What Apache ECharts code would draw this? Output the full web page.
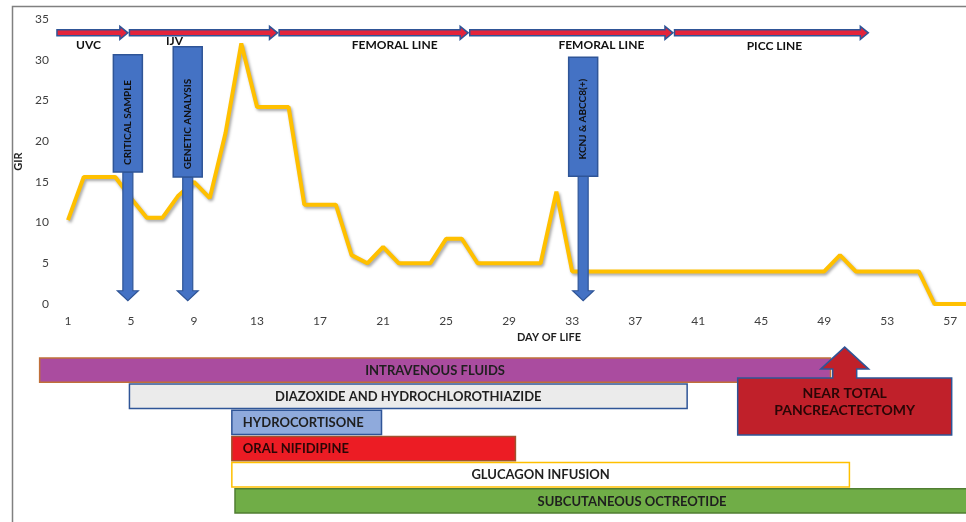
<!DOCTYPE html>
<html><head><meta charset="utf-8">
<script src="https://cdn.jsdelivr.net/npm/echarts@6/dist/echarts.min.js"></script>
<style>html,body{margin:0;padding:0;background:#fff}#c{width:966px;height:522px}</style>
</head><body><div id="c"></div>
<script>
// ---------- DATA ----------
const days = ['1','2','3','4','5','6','7','8','9','10','11','12','13','14','15','16','17','18','19','20',
  '21','22','23','24','25','26','27','28','29','30','31','32','33','34','35','36','37','38','39','40',
  '41','42','43','44','45','46','47','48','49','50','51','52','53','54','55','56','57','58'];
const gir = [10.3,15.6,15.6,15.6,13,10.6,10.6,13.3,15,13,21,32,24.2,24.2,24.2,12.2,12.2,12.2,6,5,
  7,5,5,5,8,8,5,5,5,5,5,13.8,4,4,4,4,4,4,4,4,
  4,4,4,4,4,4,4,4,4,6,4,4,4,4,4,0,0,0];
const yTicks = [0,5,10,15,20,25,30,35];

const lineNames = ['UVC','IJV','FEMORAL LINE','FEMORAL LINE','PICC LINE'];
const lineStart = [0.3, 4.9, 14.4, 26.5, 39.5];
const lineEnd   = [4.8, 14.3, 26.4, 39.4, 51.8];

const eventNames = ['CRITICAL SAMPLE','GENETIC ANALYSIS','KCNJ & ABCC8(+)'];
const eventDays  = [4.8, 8.6, 33.7];

const treatNames = ['INTRAVENOUS FLUIDS','DIAZOXIDE AND HYDROCHLOROTHIAZIDE','HYDROCORTISONE',
  'ORAL NIFIDIPINE','GLUCAGON INFUSION','SUBCUTANEOUS OCTREOTIDE'];
const treatStart = [-0.8, 4.9, 11.4, 11.4, 11.4, 11.6];
const treatEnd   = [49.4, 40.3, 20.9, 29.4, 50.6, 62];

const surgeryText = ['NEAR TOTAL','PANCREACTECTOMY'];
const surgeryDay = 50.3;

// ---------- STYLE ----------
const FONT = 'Lato';
const treatStyle = [
  {fill:'#AA4C9F', stroke:'#C0703A', color:'#1f1f1f', align:'center'},
  {fill:'#EBEBEB', stroke:'#2F5597', color:'#1f1f1f', align:'center'},
  {fill:'#8FAADC', stroke:'#2F5597', color:'#1f1f1f', align:'left'},
  {fill:'#EC1C24', stroke:'#A0522D', color:'#2a0606', align:'left'},
  {fill:'#FFFFFF', stroke:'#FFC000', color:'#1f1f1f', align:'center'},
  {fill:'#70AD47', stroke:'#507E32', color:'#1f1f1f', align:'center'}
];
const lineLabelShift = [[-4,12], [-29,8], [21,12], [30,12], [3,13]];
const eventBox = [ {top:30.6, bot:16.2, text:22.3}, {top:31.6, bot:15.6, text:22.1}, {top:30.3, bot:15.7, text:22.7} ];
const ARROW_Y = 33.3;

const chart = echarts.init(document.getElementById('c'));
const option = {
  animation:false,
  backgroundColor:'#fff',
  grid:[
    {left:68, right:-3, top:19, bottom:218},
    {left:68, right:-3, top:357, bottom:8}
  ],
  xAxis:[
    {type:'category', gridIndex:0, data:days, boundaryGap:false,
     axisLine:{show:false}, axisTick:{show:false}, splitLine:{show:false},
     axisLabel:{interval:3, margin:11, color:'#404040', fontFamily:FONT, fontSize:12},
     name:'DAY OF LIFE', nameLocation:'middle', nameGap:28,
     nameTextStyle:{fontFamily:FONT, fontWeight:'bold', fontSize:11, color:'#1f1f1f', padding:[0,0,0,64]}},
    {type:'value', gridIndex:0, min:1, max:58, show:false},
    {type:'value', gridIndex:1, min:1, max:58, show:false}
  ],
  yAxis:[
    {type:'value', gridIndex:0, min:0, max:35, interval:5,
     axisLine:{show:false}, axisTick:{show:false}, splitLine:{show:false},
     axisLabel:{margin:19, color:'#404040', fontFamily:FONT, fontSize:12,
       formatter:v=>yTicks.indexOf(v)>=0?String(v):''},
     name:'GIR', nameLocation:'middle', nameGap:39, nameRotate:90,
     nameTextStyle:{fontFamily:FONT, fontWeight:'bold', fontSize:11, color:'#1f1f1f'}},
    {type:'category', gridIndex:1, data:treatNames, inverse:true, show:false}
  ],
  graphic:[
    {type:'rect', left:10, top:4, z:100, silent:true,
     shape:{width:956, height:530}, style:{fill:null, stroke:'#808080', lineWidth:1.5}}
  ],
  series:[
    {type:'line', xAxisIndex:0, yAxisIndex:0, data:gir, symbol:'none', z:3,
     lineStyle:{color:'#FFC000', width:4, shadowColor:'rgba(0,0,0,0.35)', shadowBlur:3, shadowOffsetX:1.5, shadowOffsetY:2}},
    // catheter arrows
    {type:'custom', xAxisIndex:1, yAxisIndex:0, z:6,
     data:lineStart.map((s,i)=>[s, lineEnd[i]]),
     renderItem:(params, api)=>{
       const i = params.dataIndex;
       const p0 = api.coord([api.value(0), ARROW_Y]);
       const p1 = api.coord([api.value(1), ARROW_Y]);
       const y = p0[1], x0 = p0[0], x1 = p1[0];
       const t = 3, hh = 6.5, hl = 8;
       return {type:'group', children:[
         {type:'polygon', shape:{points:[[x0,y-t],[x1-hl,y-t],[x1-hl,y-hh],[x1,y],[x1-hl,y+hh],[x1-hl,y+t],[x0,y+t]]},
          style:{fill:'#E3243B', stroke:'#2F5597', lineWidth:1.5}},
         {type:'text', x:(x0+x1)/2 + lineLabelShift[i][0], y:y+lineLabelShift[i][1],
          style:{text:lineNames[i], fill:'#111', font:'bold 12px '+FONT, align:'center', verticalAlign:'middle'}}
       ]};
     }},
    // event boxes with down arrows
    {type:'custom', xAxisIndex:1, yAxisIndex:0, z:5,
     data:eventDays.map(d=>[d]),
     renderItem:(params, api)=>{
       const i = params.dataIndex, d = api.value(0), b = eventBox[i];
       const x = api.coord([d,0])[0];
       const yT = api.coord([d,b.top])[1], yB = api.coord([d,b.bot])[1];
       const yTip = api.coord([d,0.4])[1], yTxt = api.coord([d,b.text])[1];
       const sw = 5, hw = 10.5, hl = 10;
       return {type:'group', children:[
         {type:'polygon', shape:{points:[[x-sw,yB],[x+sw,yB],[x+sw,yTip-hl],[x+hw,yTip-hl],[x,yTip],[x-hw,yTip-hl],[x-sw,yTip-hl]]},
          style:{fill:'#4472C4', stroke:'#2F5597', lineWidth:1.2}},
         {type:'rect', shape:{x:x-14.5, y:yT, width:29, height:yB-yT},
          style:{fill:'#4472C4', stroke:'#2F5597', lineWidth:1.5}},
         {type:'text', x:x, y:yTxt, rotation:Math.PI/2,
          style:{text:eventNames[i], fill:'#111', font:'bold 10px '+FONT, align:'center', verticalAlign:'middle'}}
       ]};
     }},
    // treatment bars
    {type:'custom', xAxisIndex:2, yAxisIndex:1, z:2,
     data:treatStart.map((s,i)=>[s, treatEnd[i], i]),
     renderItem:(params, api)=>{
       const i = params.dataIndex, st = treatStyle[i];
       const p0 = api.coord([api.value(0), i]);
       const p1 = api.coord([api.value(1), i]);
       const h = api.size([0,1])[1]*0.93;
       const tx = st.align==='left' ? p0[0]+11 : (p0[0]+p1[0])/2;
       return {type:'group', children:[
         {type:'rect', shape:{x:p0[0], y:p0[1]-h/2, width:p1[0]-p0[0], height:h},
          style:{fill:st.fill, stroke:st.stroke, lineWidth:1.5}},
         {type:'text', x:tx, y:p0[1]+0.5,
          style:{text:treatNames[i], fill:st.color, font:'bold 13px '+FONT, align:st.align, verticalAlign:'middle'}}
       ]};
     }},
    // surgery callout
    {type:'custom', xAxisIndex:2, yAxisIndex:1, z:6,
     data:[[surgeryDay, 0]],
     renderItem:(params, api)=>{
       const c = api.coord([api.value(0), 0]);
       const x = c[0], yc = c[1];
       const tip = yc-23, hb = yc-1, bt = yc+8, bb = yc+65, bw = 107, sw = 12, hw = 24;
       return {type:'group', children:[
         {type:'polygon', shape:{points:[[x-bw,bt],[x-sw,bt],[x-sw,hb],[x-hw,hb],[x,tip],[x+hw,hb],[x+sw,hb],[x+sw,bt],[x+bw,bt],[x+bw,bb],[x-bw,bb]]},
          style:{fill:'#C0202A', stroke:'#2F5597', lineWidth:1.5}},
         {type:'text', x:x, y:yc+23, style:{text:surgeryText[0], fill:'#2a0606', font:'bold 14px '+FONT, align:'center', verticalAlign:'middle'}},
         {type:'text', x:x, y:yc+40, style:{text:surgeryText[1], fill:'#2a0606', font:'bold 14px '+FONT, align:'center', verticalAlign:'middle'}}
       ]};
     }}
  ]
};
chart.setOption(option);
</script>
</body></html>
